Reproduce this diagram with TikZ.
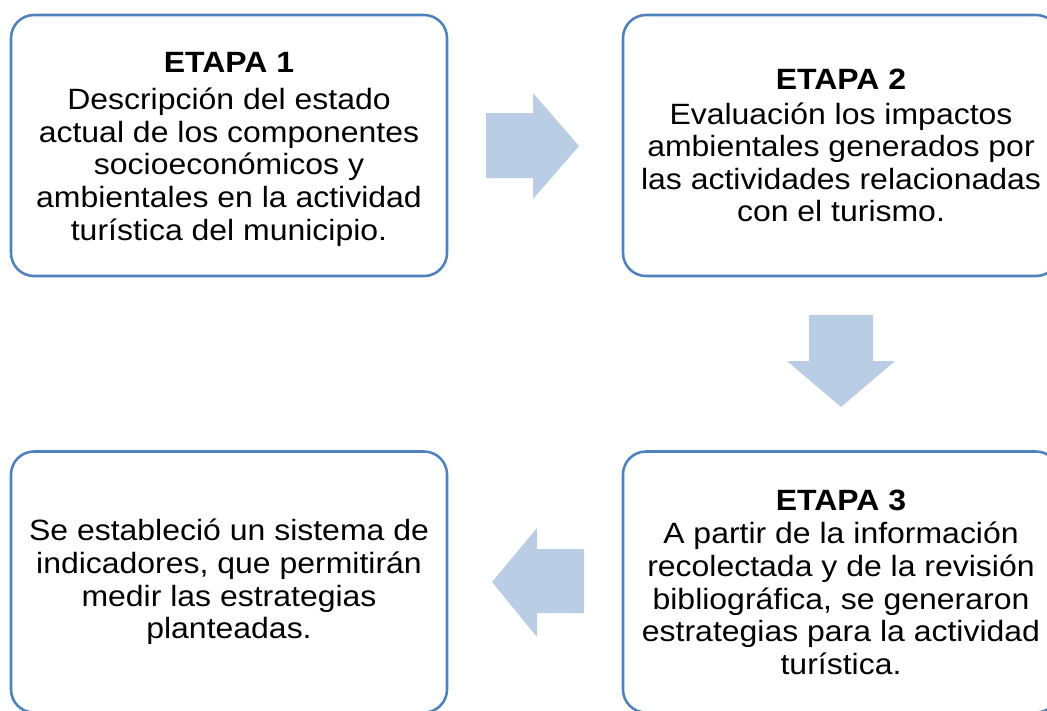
\documentclass[tikz,border=0pt]{standalone}
\usepackage{fontspec}
\setmainfont{Liberation Sans}[FakeStretch=1.09]
\definecolor{boxline}{HTML}{4F81BD}
\definecolor{arrowfill}{HTML}{B9CDE5}
\begin{document}
\begin{tikzpicture}[x=0.75pt,y=-0.75pt,
  stagebox/.style={draw=boxline, line width=1.9pt, rounded corners=17.25pt,
    minimum width=327pt, minimum height=195.75pt, align=center, inner sep=0pt,
    font=\fontsize{22}{24.4}\selectfont, text=black},
  blockarrow/.style={fill=arrowfill, draw=none}]
\useasboundingbox (0,0) rectangle (1047,711);
\node[stagebox, minimum height=0pt, draw=none] (e1t) at (229,149) {\textbf{ETAPA 1}\\[4pt]Descripción del estado\\actual de los componentes\\socioeconómicos y\\ambientales en la actividad\\turística del municipio.};
\node[stagebox] (e1) at (229,145.5) {};
\node[stagebox] (e2) at (841,145.5) {\textbf{ETAPA 2}\\[1.5pt]Evaluación los impactos\\ambientales generados por\\las actividades relacionadas\\con el turismo.};
\node[stagebox] (e3) at (841,582) {\textbf{ETAPA 3}\\[1pt]A partir de la información\\recolectada y de la revisión\\bibliográfica, se generaron\\estrategias para la actividad\\turística.};
\node[stagebox] (e4) at (229,582) {Se estableció un sistema de\\indicadores, que permitirán\\medir las estrategias\\planteadas.};
\fill[blockarrow] (486,113) -- (533,113) -- (533,93) -- (579,146) -- (533,199) -- (533,178) -- (486,178) -- cycle;
\fill[blockarrow] (809,315) -- (873,315) -- (873,361) -- (895,361) -- (841,407) -- (787,361) -- (809,361) -- cycle;
\fill[blockarrow] (584,549) -- (537,549) -- (537,528) -- (492,582) -- (537,637) -- (537,613) -- (584,613) -- cycle;
\end{tikzpicture}
\end{document}
